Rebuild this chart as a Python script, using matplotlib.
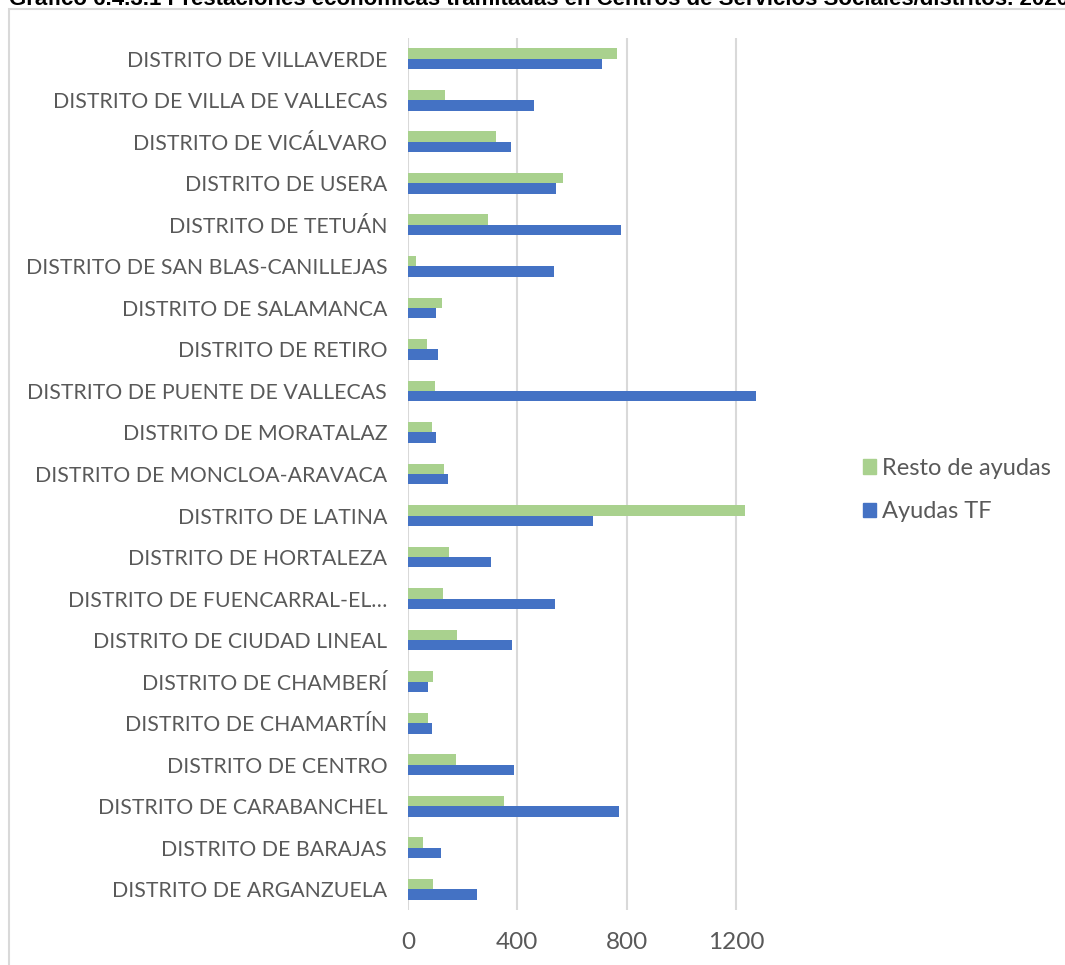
import matplotlib.pyplot as plt
from matplotlib.patches import Patch, Rectangle
import numpy as np

plt.rcParams['font.family'] = ['Lato', 'DejaVu Sans']

# distritos, de abajo arriba
distritos = [
    'DISTRITO DE ARGANZUELA', 'DISTRITO DE BARAJAS', 'DISTRITO DE CARABANCHEL',
    'DISTRITO DE CENTRO', 'DISTRITO DE CHAMARTÍN', 'DISTRITO DE CHAMBERÍ',
    'DISTRITO DE CIUDAD LINEAL', 'DISTRITO DE FUENCARRAL-EL…',
    'DISTRITO DE HORTALEZA', 'DISTRITO DE LATINA', 'DISTRITO DE MONCLOA-ARAVACA',
    'DISTRITO DE MORATALAZ', 'DISTRITO DE PUENTE DE VALLECAS', 'DISTRITO DE RETIRO',
    'DISTRITO DE SALAMANCA', 'DISTRITO DE SAN BLAS-CANILLEJAS', 'DISTRITO DE TETUÁN',
    'DISTRITO DE USERA', 'DISTRITO DE VICÁLVARO', 'DISTRITO DE VILLA DE VALLECAS',
    'DISTRITO DE VILLAVERDE',
]
ayudas_tf = [251, 120, 771, 389, 86, 72, 382, 539, 303, 678, 145,
             103, 1272, 110, 101, 536, 781, 540, 378, 461, 709]
resto_ayudas = [90, 54, 350, 174, 75, 90, 178, 129, 149, 1234, 132,
                88, 98, 68, 126, 28, 293, 566, 323, 135, 766]
ticks_x = [0, 400, 800, 1200]

W, H = 1065, 965
fig = plt.figure(figsize=(W / 100, H / 100), dpi=100)

# marco del gráfico
fig.patches.append(Rectangle((9 / W, -0.05), 1.1, 1 - 9 / H + 0.05,
                             transform=fig.transFigure, fill=False,
                             edgecolor='#D9D9D9', linewidth=1.5))
fig.text(9 / W, 1 - 5 / H,
         'Gráfico 6.4.3.1 Prestaciones económicas tramitadas en Centros de '
         'Servicios Sociales/distritos. 2020',
         fontsize=16, fontweight='bold', color='black',
         family=['Liberation Sans', 'DejaVu Sans'], va='baseline', ha='left')

ax = fig.add_axes([408 / W, 1 - 910 / H, (1400 * 0.2733) / W, 872 / H])

y = np.arange(len(distritos))
h = 0.25
ax.barh(y + h / 2, resto_ayudas, height=h, color='#A9D18E', label='Resto de ayudas')
ax.barh(y - h / 2, ayudas_tf, height=h, color='#4472C4', label='Ayudas TF')

ax.set_xlim(0, 1400)
ax.set_ylim(-0.5, len(distritos) - 0.5)
ax.set_xticks(ticks_x)
ax.set_yticks(y)
ax.set_yticklabels(distritos)
ax.tick_params(axis='y', length=0, pad=15, labelsize=15.3, labelcolor='#595959')
ax.tick_params(axis='x', length=0, pad=16, labelsize=17.5, labelcolor='#595959')
ax.grid(axis='x', color='#D9D9D9', linewidth=1.5)
ax.set_axisbelow(True)
for s in ax.spines.values():
    s.set_visible(False)

handles = [Patch(color='#A9D18E'), Patch(color='#4472C4')]
fig.legend(handles, ['Resto de ayudas', 'Ayudas TF'], loc='center left',
           bbox_to_anchor=(842 / W, 1 - 490 / H), frameon=False,
           fontsize=17, labelcolor='#595959', handlelength=0.55,
           handleheight=0.55, handletextpad=0.25, labelspacing=0.95)

fig.savefig('out.png', dpi=100, facecolor='white')
